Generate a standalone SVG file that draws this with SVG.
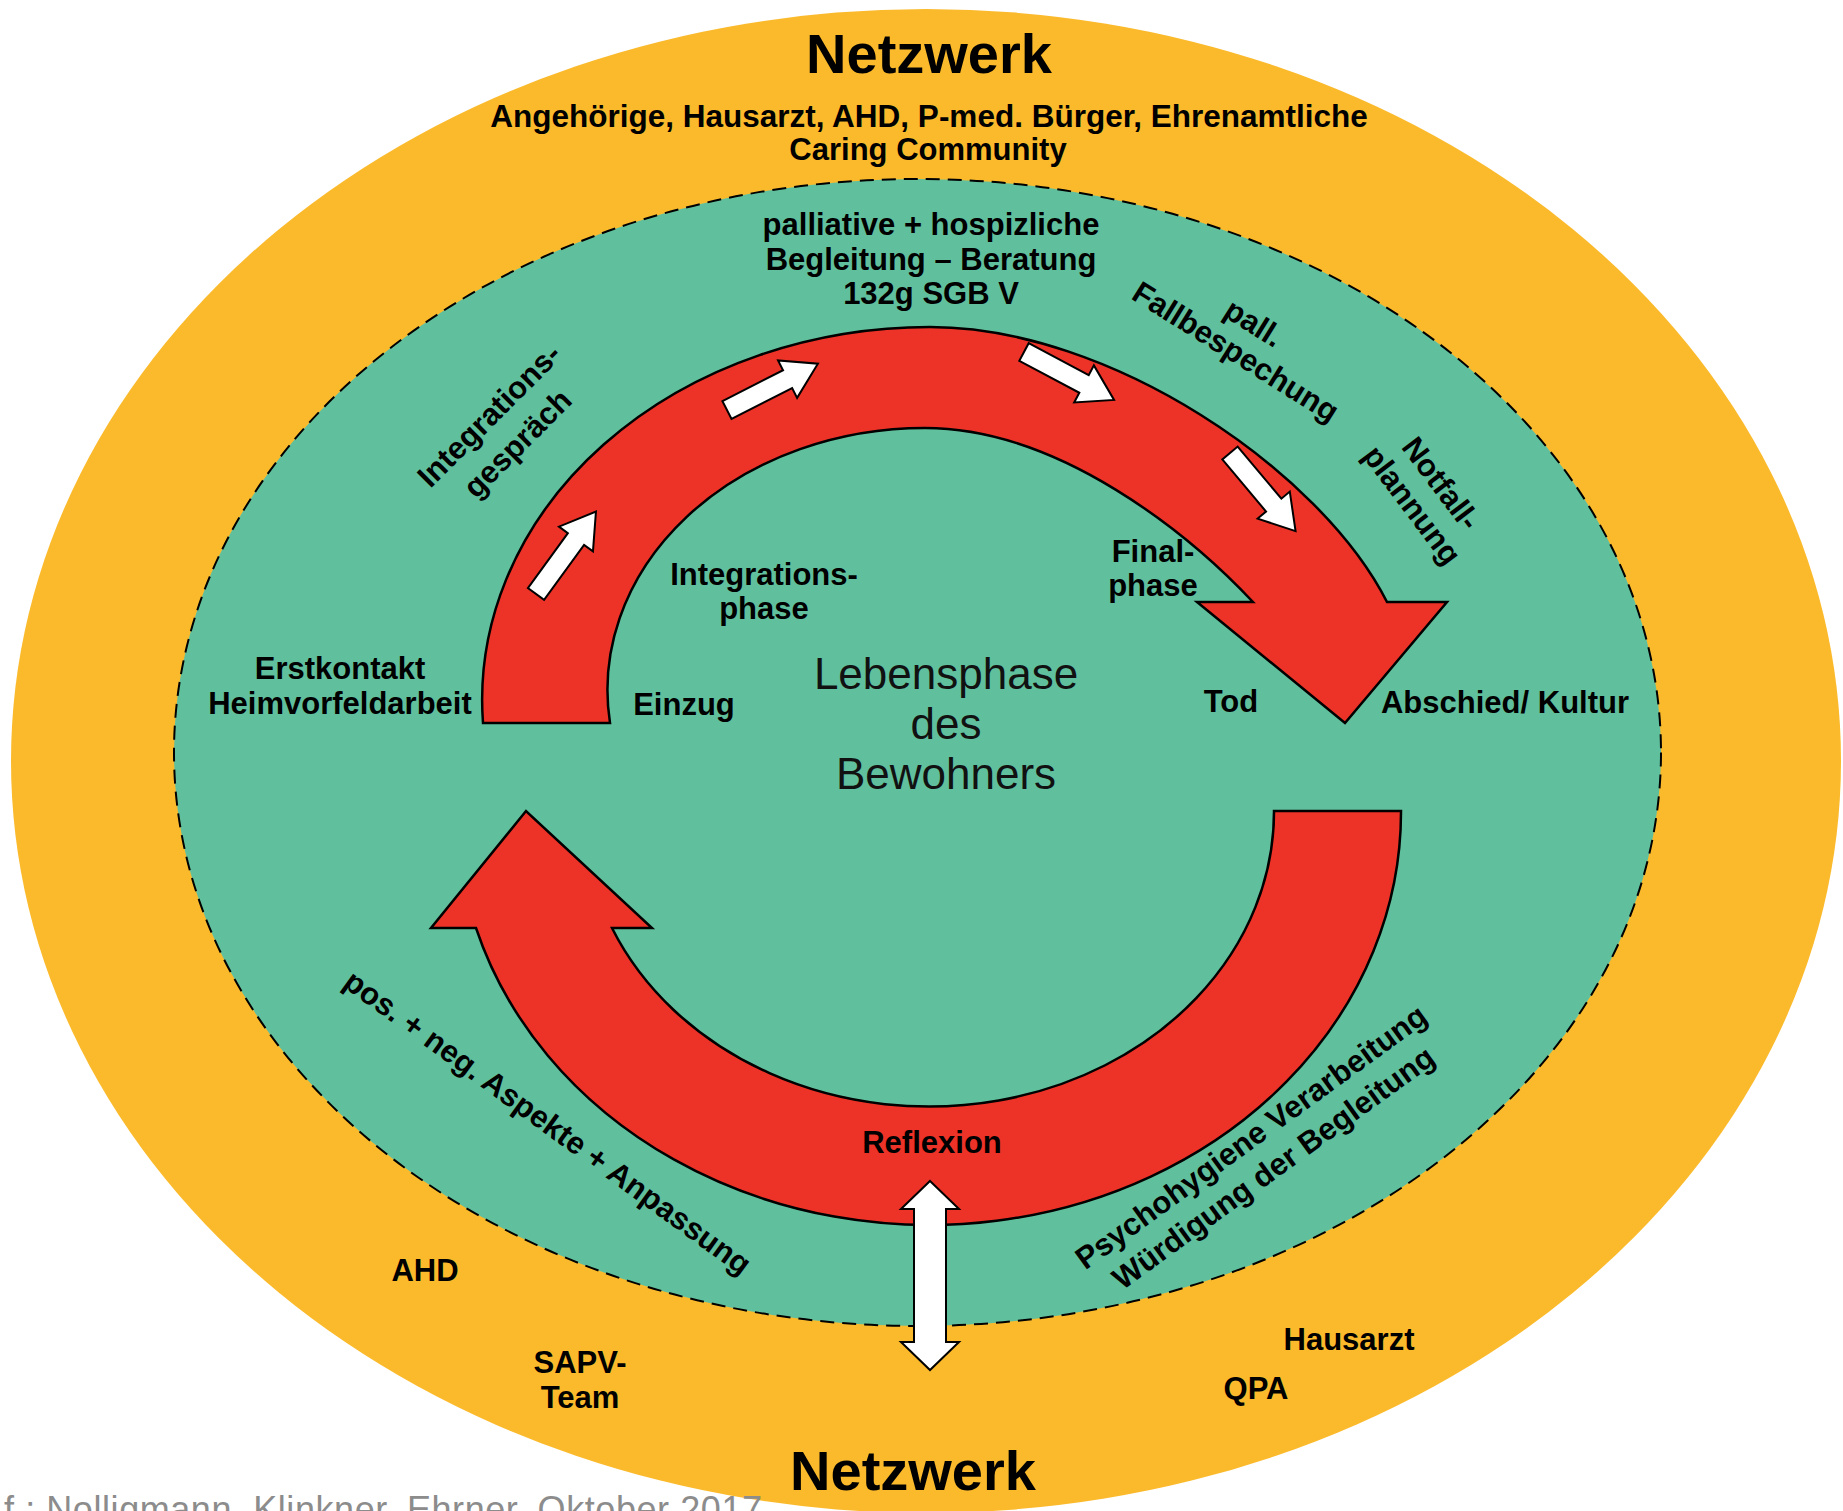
<svg xmlns="http://www.w3.org/2000/svg" width="1843" height="1511" viewBox="0 0 1843 1511">
<style>
.b{font-family:"Liberation Sans",Arial,sans-serif;font-weight:bold;font-size:31px;fill:#000;text-anchor:middle}
.r{font-family:"Liberation Sans",Arial,sans-serif;font-size:44px;fill:#111;text-anchor:middle}
.big{font-family:"Liberation Sans",Arial,sans-serif;font-weight:bold;font-size:56px;fill:#000;text-anchor:middle}
.foot{font-family:"Liberation Sans",Arial,sans-serif;font-size:36px;fill:#8c8c8c}
.red{fill:#ED3227;stroke:#000;stroke-width:2.5;stroke-linejoin:miter}
.wa{fill:#fff;stroke:#000;stroke-width:2;stroke-linejoin:miter}
</style>
<defs>
<path id="sa" d="M0,-10 L68,-10 L68,-21 L102,0 L68,21 L68,10 L0,10 Z"/>
</defs>
<rect width="1843" height="1511" fill="#fff"/>
<g id="netzwerk-ring">
<ellipse cx="926" cy="761" rx="915" ry="752" fill="#FBBA2C"/>
</g>
<g id="care-area">
<ellipse cx="917.5" cy="752.5" rx="743.5" ry="573.5" fill="#60C09E" stroke="#000" stroke-width="2" stroke-dasharray="14 8"/>
</g>
<g id="cycle-top">
<path class="red" d="M483,723 A448 373 0 0 1 930,327 C1110,327 1320,470 1387,602 L1447,602 L1345,723 L1197,602 L1253,602 C1190,535 1060,428 925,428 A317.5 262 0 0 0 610,723 Z"/>
</g>
<g id="cycle-bottom">
<path class="red" d="M1401,811 A472 413 0 0 1 476,928 L431,928 L526,811 L652,928 L612,928 A345 295 0 0 0 1274,811 Z"/>
</g>
<g id="connectors">
<use href="#sa" class="wa" transform="translate(536,594) rotate(-54)"/>
<use href="#sa" class="wa" transform="translate(727,410) rotate(-27)"/>
<use href="#sa" class="wa" transform="translate(1024,352) rotate(28)"/>
<use href="#sa" class="wa" transform="translate(1230,453) rotate(50)"/>
<path class="wa" d="M930,1181 L959,1209 L946,1209 L946,1342 L959,1342 L930,1370 L901,1342 L914,1342 L914,1209 L901,1209 Z"/>
</g>
<g id="label-netzwerk-top">
<text class="big" x="929" y="73">Netzwerk</text>
<text class="b" x="929" y="127" style="font-size:31.5px">Angehörige, Hausarzt, AHD, P-med. Bürger, Ehrenamtliche</text>
<text class="b" x="928" y="160">Caring Community</text>
</g>
<g id="label-palliativ">
<text class="b" x="931" y="235">palliative + hospizliche</text>
<text class="b" x="931" y="270">Begleitung – Beratung</text>
<text class="b" x="931" y="304">132g SGB V</text>
</g>
<g id="label-integrationsgespraech" transform="translate(503,429) rotate(-45)">
<text class="b" x="0" y="-9">Integrations-</text>
<text class="b" x="0" y="31">gespräch</text>
</g>
<g id="label-fallbesprechung" transform="translate(1245,337) rotate(32)">
<text class="b" x="0" y="-6">pall.</text>
<text class="b" x="0" y="28">Fallbespechung</text>
</g>
<g id="label-notfallplanung" transform="translate(1427,494) rotate(53)">
<text class="b" x="0" y="-7">Notfall-</text>
<text class="b" x="0" y="29">plannung</text>
</g>
<g id="label-erstkontakt">
<text class="b" x="340" y="679">Erstkontakt</text>
<text class="b" x="340" y="714">Heimvorfeldarbeit</text>
</g>
<g id="label-einzug"><text class="b" x="684" y="715">Einzug</text></g>
<g id="label-integrationsphase">
<text class="b" x="764" y="585">Integrations-</text>
<text class="b" x="764" y="619">phase</text>
</g>
<g id="label-lebensphase">
<text class="r" x="946" y="689">Lebensphase</text>
<text class="r" x="946" y="739">des</text>
<text class="r" x="946" y="789">Bewohners</text>
</g>
<g id="label-finalphase">
<text class="b" x="1153" y="562">Final-</text>
<text class="b" x="1153" y="596">phase</text>
</g>
<g id="label-tod"><text class="b" x="1231" y="712">Tod</text></g>
<g id="label-abschied"><text class="b" x="1505" y="713">Abschied/ Kultur</text></g>
<g id="label-aspekte" transform="translate(548,1122) rotate(36)">
<text class="b" x="0" y="11">pos. + neg. Aspekte + Anpassung</text>
</g>
<g id="label-psychohygiene" transform="translate(1262,1152) rotate(-36)">
<text class="b" x="0" y="-8">Psychohygiene Verarbeitung</text>
<text class="b" x="0" y="30">Würdigung der Begleitung</text>
</g>
<g id="label-reflexion"><text class="b" x="932" y="1153">Reflexion</text></g>
<g id="label-ahd"><text class="b" x="425" y="1281">AHD</text></g>
<g id="label-sapv">
<text class="b" x="580" y="1373">SAPV-</text>
<text class="b" x="580" y="1408">Team</text>
</g>
<g id="label-hausarzt"><text class="b" x="1349" y="1350">Hausarzt</text></g>
<g id="label-qpa"><text class="b" x="1256" y="1399">QPA</text></g>
<g id="label-netzwerk-bottom"><text class="big" x="913" y="1490">Netzwerk</text></g>
<g id="footer"><text class="foot" x="4" y="1522" textLength="758" lengthAdjust="spacing">f.: Nolligmann, Klinkner, Ehrner, Oktober 2017</text></g>
</svg>
